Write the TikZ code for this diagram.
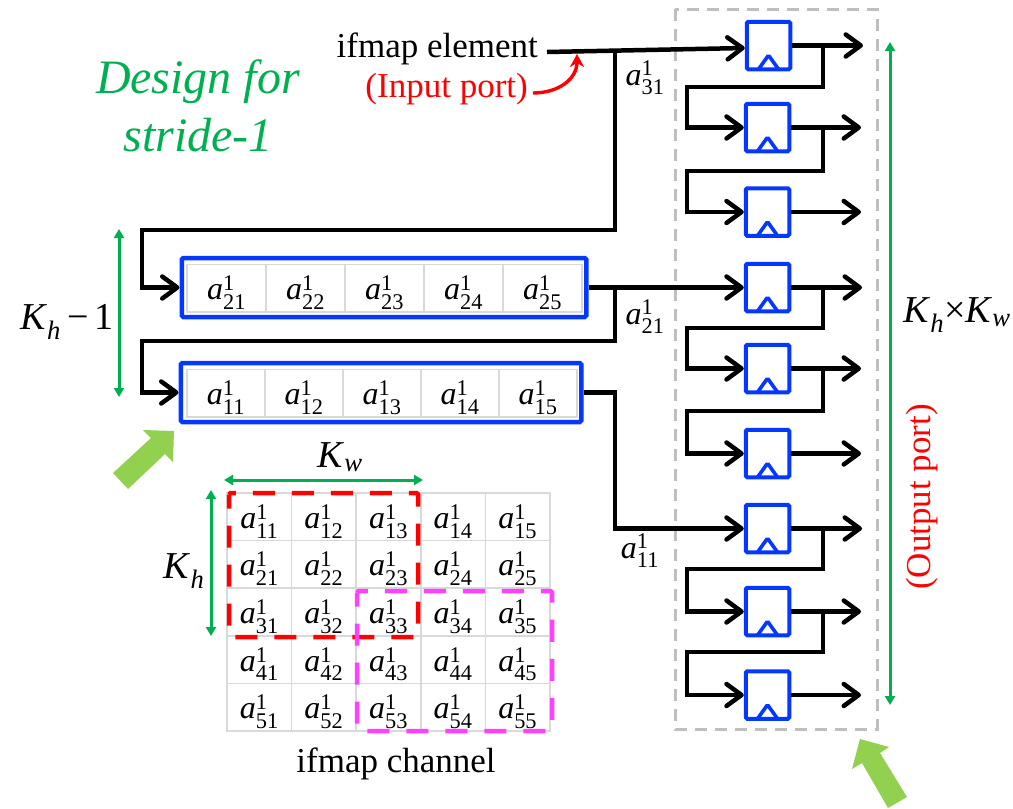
\documentclass[tikz,border=0pt]{standalone}
\usepackage{amsmath}
\usepackage{fontspec}
\setmainfont{Liberation Serif}
\usetikzlibrary{arrows.meta}
\definecolor{ffblue}{RGB}{5,56,255}
\definecolor{dimgreen}{RGB}{0,176,80}
\definecolor{bigarrow}{RGB}{146,208,80}
\definecolor{winmagenta}{RGB}{255,64,255}
\definecolor{cellgray}{RGB}{217,217,217}
\definecolor{boxgray}{RGB}{191,191,191}
\newcommand{\ael}[1]{\raisebox{-11.5pt}[0pt][0pt]{\textit{a}$_{\text{#1}}^{\text{1}}$}}
\newcommand{\kdim}[1]{\textit{K}$_{\text{\itshape #1}}$}
\tikzset{
  wire/.style={line width=4.5pt,black,line join=miter},
  arrowwire/.style={wire,-{Straight Barb[length=15pt,width=22pt,round]}},
  dimline/.style={line width=3pt,dimgreen,{Triangle[length=9pt,width=10pt]}-{Triangle[length=9pt,width=10pt]}},
  ffbox/.style={draw=ffblue,line width=4pt,rounded corners=1.5pt,minimum width=43.5pt,minimum height=47.5pt,inner sep=0pt,
    path picture={\draw[ffblue,line width=3.6pt] ([xshift=-10pt]path picture bounding box.south) -- ([yshift=14pt]path picture bounding box.south) -- ([xshift=10pt]path picture bounding box.south);}},
  rowbox/.style={draw=ffblue,line width=4.5pt,rounded corners=1.5pt,minimum height=59pt,inner sep=0pt},
  cell/.style={draw=cellgray,line width=1.5pt,inner sep=0pt,font=\fontsize{32}{36}\selectfont},
  barcell/.style={cell,minimum width=79pt,minimum height=47.5pt},
  barcelltwo/.style={cell,minimum width=78pt,minimum height=47.5pt},
  gridcell/.style={cell,minimum width=64.6pt,minimum height=47.6pt},
  tag/.style={inner sep=0pt,font=\fontsize{32}{36}\selectfont},
  dimtag/.style={inner sep=0pt,font=\fontsize{38}{42}\selectfont},
  serif/.style={inner sep=0pt,font=\fontsize{35}{40}\selectfont},
}
\begin{document}
\begin{tikzpicture}[x=1pt,y=-1pt]
\useasboundingbox (0,0) rectangle (1013,809);
% title and ports
\node[inner sep=0pt,dimgreen,align=center,font=\fontsize{48}{58}\selectfont\itshape] (title) at (198,106) {Design for\\stride-1};
\node[serif,anchor=east] (inel) at (538,49) {ifmap element};
\node[serif,anchor=east,red] (inport) at (528,89) {(Input port)};
\coordinate (instart) at (547,52);
\coordinate (porttip) at (577,54);
\draw[red,line width=3.4pt,-{Stealth[length=13pt,width=14pt]}] ([xshift=5pt,yshift=-4pt]inport.east) to[out=0,in=-90,looseness=1.1] (porttip);
% gray box
\draw[boxgray,line width=3pt,dash pattern=on 12pt off 8pt] (675,9) rectangle (877,729);
% flip flops
\node[ffbox] (ff1) at (768.5,45.5) {};
\node[ffbox] (ff2) at (767.5,127.5) {};
\node[ffbox] (ff3) at (767.5,212) {};
\node[ffbox] (ff4) at (767.5,287.5) {};
\node[ffbox] (ff5) at (767.5,368.5) {};
\node[ffbox] (ff6) at (767.5,453.5) {};
\node[ffbox] (ff7) at (767.5,528.5) {};
\node[ffbox] (ff8) at (767.5,611.5) {};
\node[ffbox] (ff9) at (767.5,695) {};
% line buffers
\node[rowbox,minimum width=404.5pt] (row1) at (384,287.5) {};
\node[barcell] (b21) at (226.5,288) {\ael{21}};
\node[barcell] (b22) at (305.5,288) {\ael{22}};
\node[barcell] (b23) at (384.5,288) {\ael{23}};
\node[barcell] (b24) at (463.5,288) {\ael{24}};
\node[barcell] (b25) at (542.5,288) {\ael{25}};
\node[rowbox,minimum width=400.5pt] (row2) at (381,392.5) {};
\node[barcelltwo] (b11) at (226,393) {\ael{11}};
\node[barcelltwo] (b12) at (304,393) {\ael{12}};
\node[barcelltwo] (b13) at (382,393) {\ael{13}};
\node[barcelltwo] (b14) at (460,393) {\ael{14}};
\node[barcelltwo] (b15) at (538,393) {\ael{15}};
% input wires
\coordinate (tap31) at (615,50);
\coordinate (left2) at (142,230);
\coordinate (tap21) at (615,287.5);
\coordinate (left1) at (142,341);
\coordinate (tap11) at (615,392.5);
\draw[arrowwire] (instart) -- ([yshift=-2.5pt]ff1.west);
\draw[arrowwire] (tap31) |- (left2) |- (row1.west);
\draw[arrowwire] (row1.east) -- (ff4.west);
\draw[arrowwire] (tap21) |- (left1) |- (row2.west);
\draw[arrowwire] (row2.east) -| (tap11) |- (ff7.west);
\node[tag] (w31) at (645,73.5) {\ael{31}};
\node[tag] (w21) at (645,312.5) {\ael{21}};
\node[tag] (w11) at (640,546.5) {\ael{11}};
% outputs
\coordinate (out1) at (863,45.5);
\coordinate (out2) at (861,127.5);
\coordinate (out3) at (861,212);
\coordinate (out4) at (862,287.5);
\coordinate (out5) at (861,368.5);
\coordinate (out6) at (861,453.5);
\coordinate (out7) at (862,528.5);
\coordinate (out8) at (861,611.5);
\coordinate (out9) at (861,695);
\draw[arrowwire] (ff1.east) -- (out1);
\draw[arrowwire] (ff2.east) -- (out2);
\draw[arrowwire] (ff3.east) -- (out3);
\draw[arrowwire] (ff4.east) -- (out4);
\draw[arrowwire] (ff5.east) -- (out5);
\draw[arrowwire] (ff6.east) -- (out6);
\draw[arrowwire] (ff7.east) -- (out7);
\draw[arrowwire] (ff8.east) -- (out8);
\draw[arrowwire] (ff9.east) -- (out9);
% feedback
\coordinate (t1) at (823,45.5);
\coordinate (t2) at (823,127.5);
\coordinate (t4) at (823,287.5);
\coordinate (t5) at (823,368.5);
\coordinate (t7) at (823,528.5);
\coordinate (t8) at (823,611.5);
\coordinate (r1) at (687,87);
\coordinate (r2) at (687,171);
\coordinate (r4) at (687,328);
\coordinate (r5) at (687,411);
\coordinate (r7) at (687,569);
\coordinate (r8) at (687,652);
\draw[arrowwire] (t1) |- (r1) |- (ff2.west);
\draw[arrowwire] (t2) |- (r2) |- (ff3.west);
\draw[arrowwire] (t4) |- (r4) |- (ff5.west);
\draw[arrowwire] (t5) |- (r5) |- (ff6.west);
\draw[arrowwire] (t7) |- (r7) |- (ff8.west);
\draw[arrowwire] (t8) |- (r8) |- (ff9.west);
% dimensions at the sides
\coordinate (kktop) at (890,42);
\coordinate (kkbot) at (890,705);
\draw[dimline] (kktop) -- (kkbot);
\node[dimtag] (kk) at (957,315) {\kdim{h}×\kdim{w}};
\node[serif,red,rotate=90] (outport) at (922,497) {(Output port)};
\coordinate (kmtop) at (119,229);
\coordinate (kmbot) at (119,397);
\draw[dimline] (kmtop) -- (kmbot);
\node[dimtag] (km) at (67,322) {\kdim{h}\,−\,1};
% big arrows
\fill[bigarrow] (174,431) -- (143,430) -- (151,438) -- (113,473) -- (128,489) -- (165,454) -- (173,462) -- cycle;
\fill[bigarrow] (860,739) -- (889,747) -- (880,753) -- (907,797) -- (888,808) -- (862,763) -- (852,769) -- cycle;
% ifmap channel
\node[gridcell] (g11) at (259.3,516.8) {\ael{11}};
\node[gridcell] (g12) at (323.9,516.8) {\ael{12}};
\node[gridcell] (g13) at (388.5,516.8) {\ael{13}};
\node[gridcell] (g14) at (453.1,516.8) {\ael{14}};
\node[gridcell] (g15) at (517.7,516.8) {\ael{15}};
\node[gridcell] (g21) at (259.3,564.4) {\ael{21}};
\node[gridcell] (g22) at (323.9,564.4) {\ael{22}};
\node[gridcell] (g23) at (388.5,564.4) {\ael{23}};
\node[gridcell] (g24) at (453.1,564.4) {\ael{24}};
\node[gridcell] (g25) at (517.7,564.4) {\ael{25}};
\node[gridcell] (g31) at (259.3,612) {\ael{31}};
\node[gridcell] (g32) at (323.9,612) {\ael{32}};
\node[gridcell] (g33) at (388.5,612) {\ael{33}};
\node[gridcell] (g34) at (453.1,612) {\ael{34}};
\node[gridcell] (g35) at (517.7,612) {\ael{35}};
\node[gridcell] (g41) at (259.3,659.6) {\ael{41}};
\node[gridcell] (g42) at (323.9,659.6) {\ael{42}};
\node[gridcell] (g43) at (388.5,659.6) {\ael{43}};
\node[gridcell] (g44) at (453.1,659.6) {\ael{44}};
\node[gridcell] (g45) at (517.7,659.6) {\ael{45}};
\node[gridcell] (g51) at (259.3,707.2) {\ael{51}};
\node[gridcell] (g52) at (323.9,707.2) {\ael{52}};
\node[gridcell] (g53) at (388.5,707.2) {\ael{53}};
\node[gridcell] (g54) at (453.1,707.2) {\ael{54}};
\node[gridcell] (g55) at (517.7,707.2) {\ael{55}};
\draw[red,line width=4.5pt,dash pattern=on 22pt off 17pt,dash phase=8pt,rounded corners=1.5pt] (229,493) rectangle (418,637);
\draw[winmagenta,line width=4.5pt,dash pattern=on 22pt off 17pt,dash phase=8pt,rounded corners=1.5pt] (357,591) rectangle (552,731);
\node[serif] (chan) at (396,764) {ifmap channel};
\coordinate (kwl) at (224,480);
\coordinate (kwr) at (423,480);
\draw[dimline] (kwl) -- (kwr);
\node[dimtag] (kw) at (340,457) {\kdim{w}};
\coordinate (kht) at (211,490);
\coordinate (khb) at (211,636);
\draw[dimline] (kht) -- (khb);
\node[dimtag] (kh) at (184,571) {\kdim{h}};
\end{tikzpicture}
\end{document}
